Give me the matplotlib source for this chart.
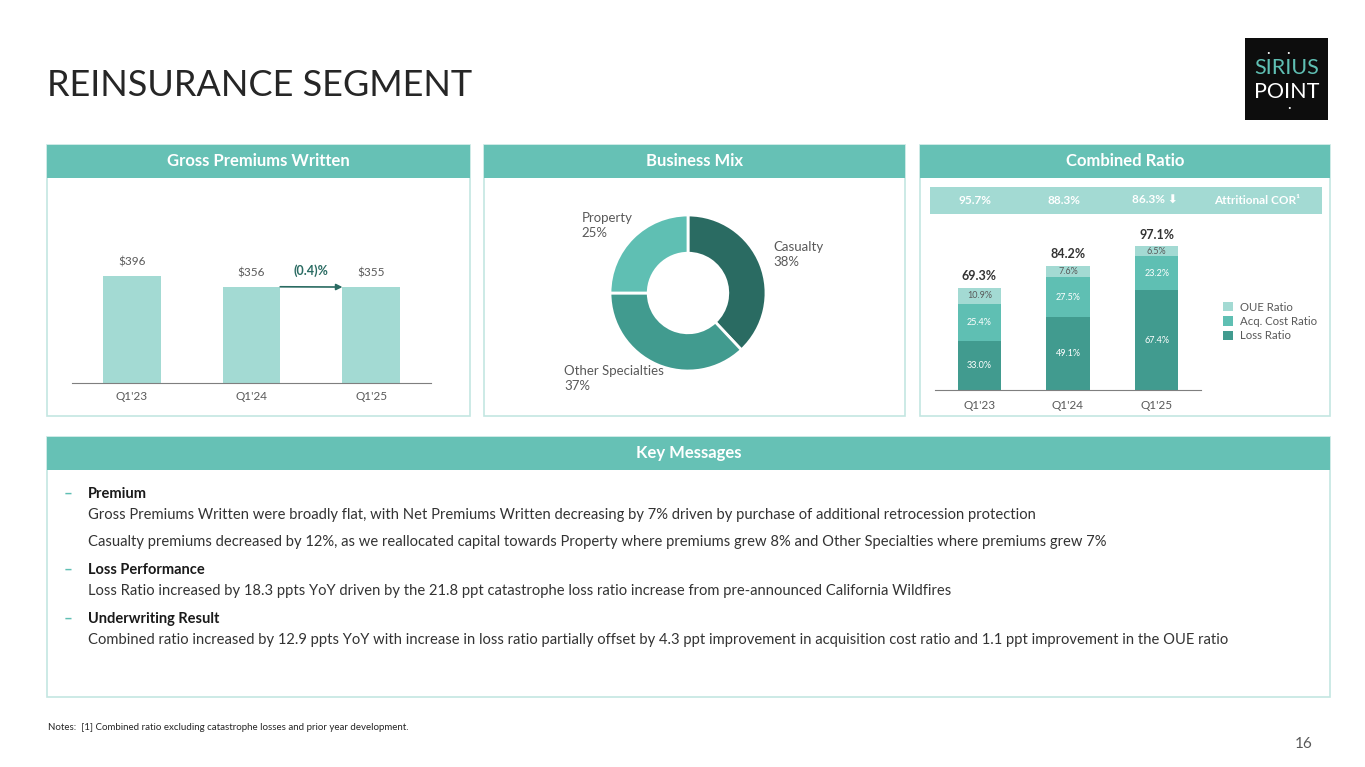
import matplotlib
matplotlib.use("Agg")
import matplotlib.pyplot as plt
from matplotlib.patches import Rectangle
from matplotlib.transforms import blended_transform_factory

plt.rcParams["font.family"] = ["Lato", "DejaVu Sans"]

# ---- data ----
quarters = ["Q1'23", "Q1'24", "Q1'25"]
gpw = [396, 356, 355]
gpw_change = "(0.4)%"

mix_labels = ["Casualty", "Other Specialties", "Property"]
mix_share = [38, 37, 25]

loss_ratio = [33.0, 49.1, 67.4]
acq_ratio = [25.4, 27.5, 23.2]
oue_ratio = [10.9, 7.6, 6.5]
combined = [69.3, 84.2, 97.1]
attritional = ["95.7%", "88.3%", "86.3%"]

messages = [
    ("Premium", [
        "Gross Premiums Written were broadly flat, with Net Premiums Written decreasing by 7% driven by purchase of additional retrocession protection",
        "Casualty premiums decreased by 12%, as we reallocated capital towards Property where premiums grew 8% and Other Specialties where premiums grew 7%",
    ]),
    ("Loss Performance", [
        "Loss Ratio increased by 18.3 ppts YoY driven by the 21.8 ppt catastrophe loss ratio increase from pre-announced California Wildfires",
    ]),
    ("Underwriting Result", [
        "Combined ratio increased by 12.9 ppts YoY with increase in loss ratio partially offset by 4.3 ppt improvement in acquisition cost ratio and 1.1 ppt improvement in the OUE ratio",
    ]),
]

# ---- colours ----
HEAD = "#66c1b5"
BORDER = "#c4e6e1"
LIGHT = "#a3dad3"
MID = "#5fbfb3"
DARK = "#419b8f"
DARKEST = "#2a6b62"
TXT = "#333333"
GREY = "#595959"

W, H = 1365, 767
fig = plt.figure(figsize=(W / 100, H / 100), dpi=100)


def fx(x):
    return x / W


def fy(y):
    return 1 - y / H


def box_axes(x0, y0, x1, y1):
    return fig.add_axes([fx(x0), fy(y1), (x1 - x0) / W, (y1 - y0) / H])


def fig_rect(x0, y0, x1, y1, **kw):
    r = Rectangle((fx(x0), fy(y1)), (x1 - x0) / W, (y1 - y0) / H,
                  transform=fig.transFigure, zorder=-1, **kw)
    fig.add_artist(r)


def panel(x0, y0, x1, y1, title):
    fig_rect(x0, y0, x1, y1, fill=False, edgecolor=BORDER, linewidth=1.2)
    fig_rect(x0, y0, x1, y0 + 33, facecolor=HEAD, edgecolor="none")
    fig.text(fx((x0 + x1) / 2), fy(y0 + 16.5), title, color="white",
             fontsize=12, fontweight="bold", ha="center", va="center")


# title
fig.text(fx(47), fy(86), "REINSURANCE SEGMENT", fontsize=26, color="#262626",
         va="center", ha="left")

# logo
fig_rect(1245, 38, 1328, 120, facecolor="#0d0d0d", edgecolor="none")
fig.text(fx(1287), fy(68), "SIRIUS", color=MID, fontsize=15.5, ha="center",
         va="center")
fig.text(fx(1287), fy(92), "POINT", color="white", fontsize=15.5, ha="center",
         va="center")
for dx, dy in [(1268, 53), (1288, 53), (1289, 108)]:
    fig.text(fx(dx), fy(dy), "\u00b7", color="white", fontsize=10, ha="center",
             va="center")

panel(47, 145, 470, 416, "Gross Premiums Written")
panel(484, 145, 905, 416, "Business Mix")
panel(920, 145, 1330, 416, "Combined Ratio")
panel(47, 437, 1330, 697, "Key Messages")

# ---- Gross premiums written ----
ax1 = box_axes(72, 190, 431, 383)
xs = range(len(quarters))
ax1.bar(xs, gpw, width=0.48, color=LIGHT)
for x, v in zip(xs, gpw):
    ax1.annotate(f"${v}", (x, v), xytext=(0, 6), textcoords="offset points",
                 ha="center", va="bottom", fontsize=8.5, color=GREY)
ax1.annotate("", xy=(2 - 0.24, gpw[2]), xytext=(1 + 0.24, gpw[1]),
             arrowprops=dict(arrowstyle="-|>", color=DARKEST, lw=1.2,
                             shrinkA=0, shrinkB=0, mutation_scale=9))
ax1.annotate(gpw_change, (1.5, gpw[1]), xytext=(0, 7),
             textcoords="offset points", ha="center", va="bottom",
             fontsize=9, fontweight="bold", color=DARKEST)
ax1.set_xlim(-0.5, 2.5)
ax1.set_ylim(0, 714)
ax1.set_xticks(list(xs))
ax1.set_xticklabels(quarters, fontsize=8.5, color=GREY)
ax1.tick_params(axis="x", length=0, pad=6)
ax1.set_yticks([])
for s in ["top", "right", "left"]:
    ax1.spines[s].set_visible(False)
ax1.spines["bottom"].set_color("#7f7f7f")
ax1.patch.set_alpha(0)

# ---- Business mix ----
cx, cy, r = 688, 293, 78
ax2 = box_axes(cx - r, cy - r, cx + r, cy + r)
ax2.pie(mix_share, colors=[DARKEST, DARK, MID], startangle=90,
        counterclock=False, radius=1,
        wedgeprops=dict(width=0.49, edgecolor="white", linewidth=2))
ax2.set_xlim(-1, 1)
ax2.set_ylim(-1, 1)
label_pos = [(1.10, 0.49), (-1.59, -1.09), (-1.36, 0.87)]
for (lx, ly), name, v in zip(label_pos, mix_labels, mix_share):
    ax2.text(lx, ly, f"{name}\n{v}%", ha="left", va="center", fontsize=9.5,
             color=GREY, linespacing=1.3)

# ---- Combined ratio ----
ax3 = box_axes(935, 220, 1201, 390)
bw = 0.49
ax3.bar(xs, loss_ratio, width=bw, color=DARK, label="Loss Ratio")
ax3.bar(xs, acq_ratio, width=bw, bottom=loss_ratio, color=MID,
        label="Acq. Cost Ratio")
bottoms = [a + b for a, b in zip(loss_ratio, acq_ratio)]
ax3.bar(xs, oue_ratio, width=bw, bottom=bottoms, color=LIGHT, label="OUE Ratio")
for x in xs:
    ax3.text(x, loss_ratio[x] / 2, f"{loss_ratio[x]:.1f}%", ha="center",
             va="center", fontsize=6.5, color="white")
    ax3.text(x, loss_ratio[x] + acq_ratio[x] / 2, f"{acq_ratio[x]:.1f}%",
             ha="center", va="center", fontsize=6.5, color="white")
    ax3.text(x, bottoms[x] + oue_ratio[x] / 2, f"{oue_ratio[x]:.1f}%",
             ha="center", va="center", fontsize=6.5, color=GREY)
    ax3.annotate(f"{combined[x]:.1f}%", (x, combined[x]), xytext=(0, 4),
                 textcoords="offset points", ha="center", va="bottom",
                 fontsize=9, fontweight="bold", color=TXT)
ax3.set_xlim(-0.5, 2.5)
ax3.set_ylim(0, 115)
ax3.set_xticks(list(xs))
ax3.set_xticklabels(quarters, fontsize=8.5, color=GREY)
ax3.tick_params(axis="x", length=0, pad=7)
ax3.set_yticks([])
for s in ["top", "right", "left"]:
    ax3.spines[s].set_visible(False)
ax3.spines["bottom"].set_color("#7f7f7f")
ax3.patch.set_alpha(0)
handles, labels = ax3.get_legend_handles_labels()
fig.legend(handles[::-1], labels[::-1], loc="upper left",
           bbox_to_anchor=(fx(1218), fy(297)), frameon=False, fontsize=8.2,
           handlelength=0.9, handleheight=0.9, handletextpad=0.6,
           labelspacing=0.3, labelcolor=GREY, borderaxespad=0)

# attritional band
fig_rect(930, 187, 1322, 214, facecolor=LIGHT, edgecolor="none")
band = blended_transform_factory(ax3.transData, fig.transFigure)
for x, t in zip(xs, attritional):
    lab = t + " \u2b07" if x == 2 else t
    fig.text(x - 0.05 if x < 2 else x - 0.02, fy(200.5), lab, transform=band,
             ha="center", va="center", fontsize=8.5, fontweight="bold",
             color="white")
fig.text(fx(1257), fy(200.5), "Attritional COR\u00b9", ha="center",
         va="center", fontsize=8.5, fontweight="bold", color="white")

# ---- key messages ----
y = 494
for head, lines in messages:
    fig.text(fx(64), fy(y), "\u2013", color=MID, fontsize=11, ha="left",
             va="center", fontweight="bold")
    fig.text(fx(88), fy(y), head, color="#1a1a1a", fontsize=10.5,
             fontweight="bold", ha="left", va="center")
    y += 21
    for i, line in enumerate(lines):
        fig.text(fx(88), fy(y), line, color=TXT, fontsize=10.6, ha="left",
                 va="center")
        y += 27 if i < len(lines) - 1 else 28

fig.text(fx(48), fy(728), "Notes:  [1] Combined ratio excluding catastrophe losses and prior year development.",
         fontsize=7, color="#262626", ha="left", va="center")
fig.text(fx(1304), fy(744), "16", fontsize=11, color=GREY, ha="center",
         va="center")

fig.savefig("out.png", dpi=100)
